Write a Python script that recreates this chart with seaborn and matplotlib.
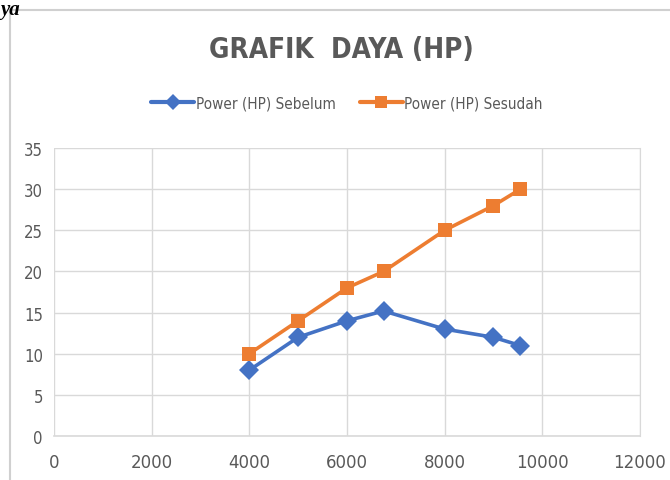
import pandas as pd
import numpy as np
import matplotlib
matplotlib.use("Agg")
import matplotlib.pyplot as plt
import seaborn as sns

# data
rpm = [4000, 5000, 6000, 6750, 8000, 9000, 9550]
power_sebelum = [8, 12, 14, 15.2, 13, 12, 11]
power_sesudah = [10, 14, 18, 20, 25, 28, 30]
series_names = ["Power (HP) Sebelum", "Power (HP) Sesudah"]
x_ticks = [0, 2000, 4000, 6000, 8000, 10000, 12000]
y_ticks = [0, 5, 10, 15, 20, 25, 30, 35]

df = pd.DataFrame({
    "rpm": rpm * 2,
    "power": power_sebelum + power_sesudah,
    "seri": [series_names[0]] * len(rpm) + [series_names[1]] * len(rpm),
})

sns.set_style("white")
plt.rcParams['font.family'] = ['DejaVu Sans']
plt.rcParams['font.stretch'] = 'condensed'
grey = "#595959"

fig = plt.figure(figsize=(6.7, 4.81), dpi=100)
ax = fig.add_axes([0.0806, 0.0915, 0.8744, 0.5985])

palette = {series_names[0]: "#4472C4", series_names[1]: "#ED7D31"}
sns.lineplot(data=df, x="rpm", y="power", hue="seri", style="seri",
             markers={series_names[0]: "D", series_names[1]: "s"},
             dashes=False, palette=palette, linewidth=2.6, markersize=10.5,
             markeredgewidth=0, ax=ax, legend=True)

ax.set_xlim(0, 12000)
ax.set_ylim(0, 35)
ax.set_xticks(x_ticks)
ax.set_yticks(y_ticks)
ax.grid(True, color="#d9d9d9", linewidth=1)
ax.set_axisbelow(True)
for s in ["top", "left"]:
    ax.spines[s].set_visible(False)
ax.spines["right"].set_color("#d9d9d9")
ax.spines["bottom"].set_color("#d9d9d9")
ax.spines["bottom"].set_linewidth(1.2)
ax.tick_params(axis="x", length=0, labelsize=12, colors=grey, pad=12)
ax.tick_params(axis="y", length=0, labelsize=12, colors=grey, pad=8)
for lbl in ax.get_xticklabels():
    lbl.set_fontstretch("normal")
ax.set_xlabel("")
ax.set_ylabel("")

handles, labels = ax.get_legend_handles_labels()
for h in handles:
    h.set_markersize(8)
    h.set_linewidth(3)
ax.legend(handles=handles, labels=labels, loc="center",
          bbox_to_anchor=(0.5 * (0.0806 + 0.955), 1 - 104 / 481),
          bbox_transform=fig.transFigure, ncol=2, frameon=False,
          fontsize=11, labelcolor=grey, handlelength=2.8, handletextpad=0.1,
          columnspacing=1.6)

fig.text(0.51, 1 - 50 / 481, "GRAFIK  DAYA (HP)", ha="center", va="center",
         fontsize=20, fontweight="bold", color=grey)

# frame of the embedded chart and caption text above it
fig.add_artist(plt.Line2D([10 / 670, 1], [1 - 11 / 481, 1 - 11 / 481],
                          transform=fig.transFigure, color="#d0d0d0", linewidth=1.5))
fig.add_artist(plt.Line2D([10 / 670, 10 / 670], [0, 1 - 11 / 481],
                          transform=fig.transFigure, color="#d0d0d0", linewidth=1.5))
fig.text(0.0, 1.0, "ya", ha="left", va="top", fontsize=15,
         fontweight="bold", fontstyle="italic", family="Liberation Serif",
         fontstretch="normal", color="black")

fig.savefig("out.png", dpi=100)
